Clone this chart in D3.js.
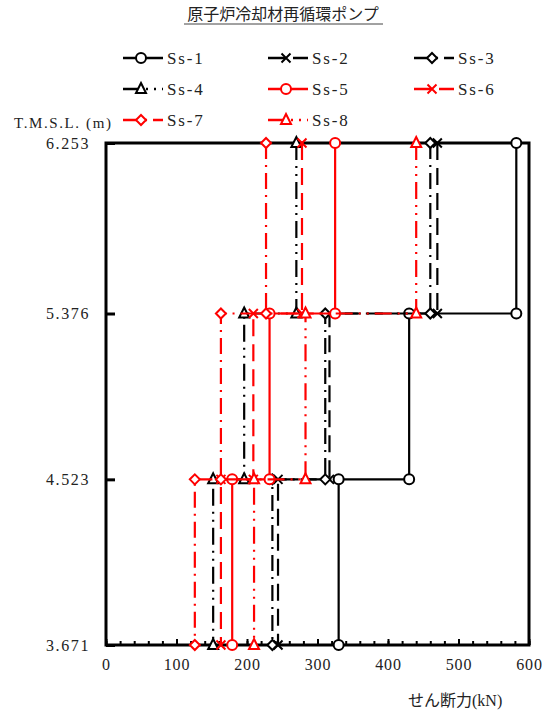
<!DOCTYPE html>
<html>
<head>
<meta charset="utf-8">
<script src="https://cdn.jsdelivr.net/npm/d3@7"></script>
<style>
  body { margin: 0; background: #fff; }
  text { font-family: "Liberation Serif", "DejaVu Serif", "Noto Sans CJK JP", serif; fill: #222; }
</style>
</head>
<body>
<div id="chart"></div>
<script>
// elevation levels (T.M.S.L. m), top to bottom
var levels = [6.253, 5.376, 4.523, 3.671];
var xTicks = [0, 100, 200, 300, 400, 500, 600];

// shear force (kN) for each segment between levels
var seriesNames = ["Ss-1", "Ss-2", "Ss-3", "Ss-4", "Ss-5", "Ss-6", "Ss-7", "Ss-8"];
var ss1 = [582, 430, 330];
var ss2 = [470, 317, 244];
var ss3 = [460, 311, 236];
var ss4 = [270, 196, 152];
var ss5 = [325, 232, 179];
var ss6 = [278, 209, 163];
var ss7 = [227, 163, 126];
var ss8 = [440, 283, 210];
var shear = [ss1, ss2, ss3, ss4, ss5, ss6, ss7, ss8];

var colors = ["#000", "#000", "#000", "#000", "#f00", "#f00", "#f00", "#f00"];
var markers = ["circle", "cross", "diamond", "triangle", "circle", "cross", "diamond", "triangle"];
var dashes = [null, "17,8", "16,6,2,6", "17,6,2,6,2,6", null, "17,8", "16,6,2,6", "17,6,2,6,2,6"];

var width = 542, height = 715;

var svg = d3.select('#chart')
    .append('svg')
    .attr('width', width)
    .attr('height', height);

var x = d3.scaleLinear().domain([0, 600]).range([106, 529]);
var y = d3.scaleLinear().domain([3.671, 6.253]).range([645, 143]);

// title
svg.append('text')
    .attr('x', 283).attr('y', 20)
    .attr('text-anchor', 'middle')
    .style('font-size', '16px')
    .text('原子炉冷却材再循環ポンプ');
svg.append('line')
    .attr('x1', 184).attr('x2', 383)
    .attr('y1', 24).attr('y2', 24)
    .attr('stroke', '#444').attr('stroke-width', 1);

// marker drawing
function drawMarker(sel, type, color, cx, cy) {
    if (type === 'circle') {
        sel.append('circle').attr('cx', cx).attr('cy', cy).attr('r', 5)
            .attr('fill', '#fff').attr('stroke', color).attr('stroke-width', 2);
    } else if (type === 'diamond') {
        var s = 5;
        sel.append('path')
            .attr('d', 'M' + cx + ',' + (cy - s) + 'L' + (cx + s) + ',' + cy + 'L' + cx + ',' + (cy + s) + 'L' + (cx - s) + ',' + cy + 'Z')
            .attr('fill', '#fff').attr('stroke', color).attr('stroke-width', 2);
    } else if (type === 'triangle') {
        sel.append('path')
            .attr('d', 'M' + cx + ',' + (cy - 6) + 'L' + (cx + 5) + ',' + (cy + 4) + 'L' + (cx - 5) + ',' + (cy + 4) + 'Z')
            .attr('fill', '#fff').attr('stroke', color).attr('stroke-width', 2);
    } else {
        var c = 4.5;
        sel.append('path')
            .attr('d', 'M' + (cx - c) + ',' + (cy - c) + 'L' + (cx + c) + ',' + (cy + c) + 'M' + (cx - c) + ',' + (cy + c) + 'L' + (cx + c) + ',' + (cy - c))
            .attr('fill', 'none').attr('stroke', color).attr('stroke-width', 2);
    }
}

// legend
var legX = [123, 268, 414];
var legY = [58, 89, 120];
seriesNames.forEach(function (name, i) {
    var lx = legX[i % 3], ly = legY[Math.floor(i / 3)];
    var g = svg.append('g');
    g.append('line')
        .attr('x1', lx).attr('x2', lx + 40)
        .attr('y1', ly).attr('y2', ly)
        .attr('stroke', colors[i]).attr('stroke-width', 2.5)
        .attr('stroke-dasharray', dashes[i]);
    drawMarker(g, markers[i], colors[i], lx + 18, ly);
    g.append('text')
        .attr('x', lx + 44).attr('y', ly + 6)
        .style('font-size', '17px')
        .style('letter-spacing', '1.8px')
        .text(name);
});

// axis title labels
svg.append('text')
    .attr('x', 14).attr('y', 128)
    .style('font-size', '15px')
    .style('letter-spacing', '1.6px')
    .text('T.M.S.L. (m)');
svg.append('text')
    .attr('x', 408).attr('y', 706)
    .style('font-size', '16px')
    .text('せん断力(kN)');

// frame
svg.append('rect')
    .attr('x', 106).attr('y', 143)
    .attr('width', 423).attr('height', 502)
    .attr('fill', 'none').attr('stroke', '#000').attr('stroke-width', 3);

// y axis
var yAxis = d3.axisLeft(y)
    .tickValues(levels)
    .tickFormat(d3.format('.3f'))
    .tickSize(-9)
    .tickPadding(16);
var gy = svg.append('g').attr('transform', 'translate(106,0)').call(yAxis);
gy.select('.domain').remove();
gy.selectAll('line').attr('stroke-width', 3);
gy.selectAll('text').style('font-size', '16px').style('letter-spacing', '1.6px').attr('fill', '#222');

// x axis minor + major ticks
var gxm = svg.append('g').attr('transform', 'translate(0,645)')
    .call(d3.axisBottom(x).tickValues(d3.range(0, 601, 20)).tickSize(-4).tickFormat(''));
gxm.select('.domain').remove();
gxm.selectAll('line').attr('stroke-width', 2);
var gx = svg.append('g').attr('transform', 'translate(0,645)')
    .call(d3.axisBottom(x).tickValues(xTicks).tickSize(-6).tickPadding(14));
gx.select('.domain').remove();
gx.selectAll('line').attr('stroke-width', 2);
gx.selectAll('text').style('font-size', '16px').style('letter-spacing', '0.8px').attr('fill', '#222');

// series
var line = d3.line().x(function (d) { return x(d[0]); }).y(function (d) { return y(d[1]); });
shear.forEach(function (vals, i) {
    var pts = [];
    vals.forEach(function (v, k) {
        pts.push([v, levels[k]]);
        pts.push([v, levels[k + 1]]);
    });
    var g = svg.append('g');
    g.append('path')
        .attr('d', line(pts))
        .attr('fill', 'none')
        .attr('stroke', colors[i])
        .attr('stroke-width', 2.2)
        .attr('stroke-dasharray', dashes[i]);
    pts.forEach(function (p) {
        drawMarker(g, markers[i], colors[i], x(p[0]), y(p[1]));
    });
});
</script>
</body>
</html>
